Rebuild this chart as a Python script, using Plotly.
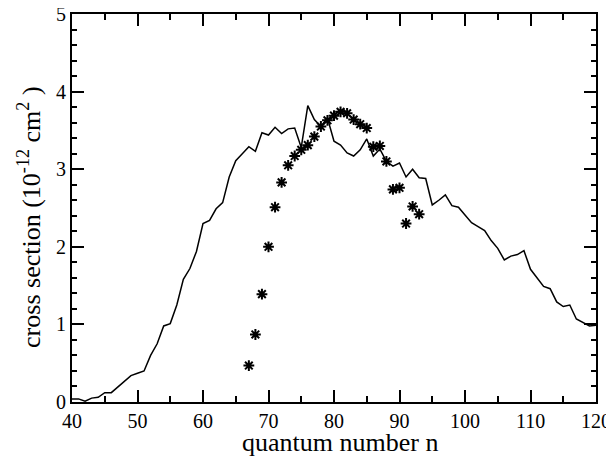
import plotly.graph_objects as go

# calculated cross section (solid line)
n_line = list(range(40, 121))
sigma_line = [
    0.04, 0.04, 0.01, 0.05, 0.06, 0.12, 0.12, 0.19, 0.26, 0.34,
    0.37, 0.40, 0.60, 0.75, 0.98, 1.01, 1.25, 1.58, 1.72, 1.94,
    2.30, 2.34, 2.49, 2.57, 2.90, 3.11, 3.20, 3.29, 3.23, 3.47,
    3.44, 3.54, 3.46, 3.52, 3.53, 3.28, 3.82, 3.64, 3.55, 3.66,
    3.36, 3.31, 3.21, 3.17, 3.25, 3.39, 3.17, 3.26, 3.10, 3.04,
    3.08, 2.90, 3.00, 2.89, 2.88, 2.54, 2.60, 2.67, 2.53, 2.51,
    2.41, 2.31, 2.26, 2.21, 2.08, 1.98, 1.83, 1.88, 1.90, 1.95,
    1.71, 1.60, 1.49, 1.46, 1.29, 1.23, 1.25, 1.07, 1.03, 0.98,
    0.99,
]

# measured points (stars)
n_meas = list(range(67, 94))
sigma_meas = [
    0.47, 0.87, 1.39, 2.00, 2.51, 2.83, 3.05, 3.17, 3.25, 3.31,
    3.42, 3.55, 3.63, 3.69, 3.74, 3.72, 3.64, 3.58, 3.53, 3.29,
    3.30, 3.10, 2.74, 2.76, 2.30, 2.52, 2.42,
]

x_title = "quantum number n"
y_title = "cross section (10<sup>-12</sup> cm<sup>2</sup> )"

fig = go.Figure()
fig.add_trace(go.Scatter(
    x=n_line, y=sigma_line, mode="lines",
    line=dict(color="black", width=1.5),
    showlegend=False,
))
fig.add_trace(go.Scatter(
    x=n_meas, y=sigma_meas, mode="markers",
    marker=dict(symbol="asterisk", size=9, color="black",
                line=dict(color="black", width=2)),
    showlegend=False,
))

font = "Liberation Serif, Times New Roman, serif"
# page body adds an 8px offset, margins compensate for it
fig.update_layout(
    width=614, height=457,
    margin=dict(l=64, r=26, t=6, b=63),
    plot_bgcolor="white", paper_bgcolor="white",
    font=dict(family=font, color="black", size=20),
)
fig.update_xaxes(
    range=[40, 120], tickmode="linear", tick0=40, dtick=10,
    ticks="inside", ticklen=12, tickwidth=1.5, tickcolor="black",
    minor=dict(tickmode="linear", tick0=40, dtick=5, ticks="inside",
               ticklen=6, tickwidth=1.5, tickcolor="black"),
    showline=True, linecolor="black", linewidth=2, mirror="allticks",
    showgrid=False, zeroline=False, automargin=False,
    ticklabeloverflow="allow", tickfont=dict(size=20),
)
fig.update_yaxes(
    range=[0, 5], tickmode="linear", tick0=0, dtick=1,
    ticks="inside", ticklen=12, tickwidth=1.5, tickcolor="black",
    minor=dict(tickmode="linear", tick0=0, dtick=0.2, ticks="inside",
               ticklen=5, tickwidth=1.5, tickcolor="black"),
    showline=True, linecolor="black", linewidth=2, mirror="allticks",
    showgrid=False, zeroline=False, automargin=False,
    ticklabeloverflow="allow", tickfont=dict(size=20),
)
fig.add_annotation(
    text=x_title, xref="paper", yref="paper", x=0.511, y=0,
    xanchor="center", yanchor="middle", yshift=-40,
    showarrow=False, font=dict(size=26),
)
fig.add_annotation(
    text=y_title, xref="paper", yref="paper", x=0, y=0.477,
    xanchor="center", yanchor="middle", xshift=-42, textangle=-90,
    showarrow=False, font=dict(size=26),
)

fig.write_html("out.html")
